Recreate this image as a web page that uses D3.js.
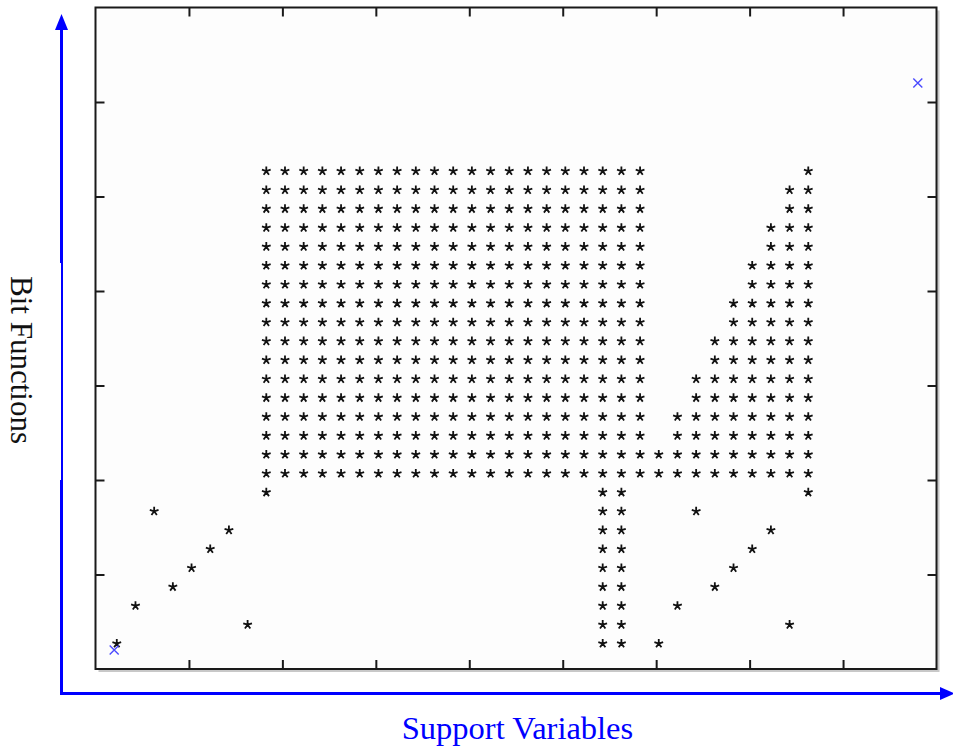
<!DOCTYPE html>
<html>
<head>
<meta charset="utf-8">
<script src="https://cdn.jsdelivr.net/npm/d3@7"></script>
<style>
  html, body { margin: 0; padding: 0; background: #ffffff; }
  svg { display: block; }
</style>
</head>
<body>
<svg id="chart" width="953" height="749"></svg>
<script>
// ---------- data ----------
const xTicks = [5, 10, 15, 20, 25, 30, 35, 40];
const yTicks = [5, 10, 15, 20, 25, 30];

// vertical runs of asterisks: column, first row, last row
const runCols = [9, 10, 11, 12, 13, 14, 15, 16, 17, 18, 19, 20, 21, 22, 23, 24, 25, 26, 27, 28, 29, 30, 31, 32, 33, 34, 35, 36, 37, 38];
const runFrom = [9, 10, 10, 10, 10, 10, 10, 10, 10, 10, 10, 10, 10, 10, 10, 10, 10, 10, 1, 1, 10, 10, 10, 10, 10, 10, 10, 10, 10, 9];
const runTo   = [26, 26, 26, 26, 26, 26, 26, 26, 26, 26, 26, 26, 26, 26, 26, 26, 26, 26, 26, 26, 26, 11, 13, 15, 17, 19, 21, 23, 25, 26];

// isolated asterisks
const loneLeftX  = [1, 2, 3, 4, 5, 6, 7, 8];
const loneLeftY  = [1, 3, 8, 4, 5, 6, 7, 2];
const loneRightX = [30, 31, 32, 33, 34, 35, 36, 37];
const loneRightY = [1, 3, 8, 4, 5, 6, 7, 2];

// blue corner markers
const markX = [1, 44];
const markY = [1, 31];

const xLabel = "Support Variables";
const yLabel = "Bit Functions";

// ---------- build point list ----------
const stars = [];
runCols.forEach((c, i) => {
  for (let r = runFrom[i]; r <= runTo[i]; r++) stars.push({x: c, y: r});
});
loneLeftX.forEach((x, i) => stars.push({x: x, y: loneLeftY[i]}));
loneRightX.forEach((x, i) => stars.push({x: x, y: loneRightY[i]}));
const marks = markX.map((x, i) => ({x: x, y: markY[i]}));

// ---------- layout ----------
const svg = d3.select("#chart");
const L = 95.5, R = 936.5, T = 7.5, B = 669;
const x = d3.scaleLinear().domain([0, 45]).range([L, R]);
const y = d3.scaleLinear().domain([0, 35]).range([B, T]);

// blue outer arrows
const blue = "#0000ff";
svg.append("line").attr("x1", 61.5).attr("y1", 694).attr("x2", 61.5).attr("y2", 28)
  .attr("stroke", blue).attr("stroke-width", 3);
svg.append("path").attr("d", "M61.5,14 L55,30 L68,30 Z").attr("fill", blue);
svg.append("line").attr("x1", 60).attr("y1", 693.5).attr("x2", 940).attr("y2", 693.5)
  .attr("stroke", blue).attr("stroke-width", 3);
svg.append("path").attr("d", "M955,693.5 L940,687 L940,700 Z").attr("fill", blue);

// white box behind y label
svg.append("rect").attr("x", 0).attr("y", 263).attr("width", 61).attr("height", 217).attr("fill", "#ffffff");
svg.append("text")
  .attr("transform", "translate(11,360) rotate(90)")
  .attr("text-anchor", "middle")
  .attr("font-family", "'Liberation Serif', 'Times New Roman', serif")
  .attr("font-size", 31)
  .attr("fill", "#111")
  .text(yLabel);

svg.append("text")
  .attr("x", 517.5).attr("y", 739)
  .attr("text-anchor", "middle")
  .attr("font-family", "'Liberation Serif', 'Times New Roman', serif")
  .attr("font-size", 32.5)
  .attr("fill", blue)
  .text(xLabel);

// plot frame with shadow
svg.append("rect").attr("x", L + 3).attr("y", T + 3).attr("width", R - L).attr("height", B - T)
  .attr("fill", "#c8c8c8");
svg.append("rect").attr("x", L).attr("y", T).attr("width", R - L).attr("height", B - T)
  .attr("fill", "#fdfdfd").attr("stroke", "#1a1a1a").attr("stroke-width", 2);

// ticks (inside, no labels)
function styleAxis(g) {
  g.select(".domain").remove();
  g.selectAll(".tick line").attr("stroke", "#1a1a1a").attr("stroke-width", 2);
  g.selectAll(".tick text").remove();
}
svg.append("g").attr("transform", `translate(0,${B})`)
  .call(d3.axisBottom(x).tickValues(xTicks).tickSize(-9).tickFormat("")).call(styleAxis);
svg.append("g").attr("transform", `translate(0,${T})`)
  .call(d3.axisTop(x).tickValues(xTicks).tickSize(-9).tickFormat("")).call(styleAxis);
svg.append("g").attr("transform", `translate(${L},0)`)
  .call(d3.axisLeft(y).tickValues(yTicks).tickSize(-9).tickFormat("")).call(styleAxis);
svg.append("g").attr("transform", `translate(${R},0)`)
  .call(d3.axisRight(y).tickValues(yTicks).tickSize(-9).tickFormat("")).call(styleAxis);

// asterisk marker: 5 spokes, drawn slightly up/right of the data point (text-style marker)
const s = 4.6;
let starPath = "";
[-90, -18, 54, 126, 198].forEach(a => {
  const r = a * Math.PI / 180;
  starPath += `M0,0L${(s * Math.cos(r)).toFixed(2)},${(s * Math.sin(r)).toFixed(2)}`;
});
svg.append("g").selectAll("path").data(stars).join("path")
  .attr("transform", d => `translate(${x(d.x) + 2.6},${y(d.y) - 6.5})`)
  .attr("d", starPath)
  .attr("stroke", "#111").attr("stroke-width", 1.8).attr("fill", "none");

// blue x markers
const m = 4.5;
svg.append("g").selectAll("path").data(marks).join("path")
  .attr("transform", d => `translate(${x(d.x)},${y(d.y)})`)
  .attr("d", `M${-m},${-m}L${m},${m}M${-m},${m}L${m},${-m}`)
  .attr("stroke", "#4a4aff").attr("stroke-width", 1.4).attr("fill", "none");
</script>
</body>
</html>
